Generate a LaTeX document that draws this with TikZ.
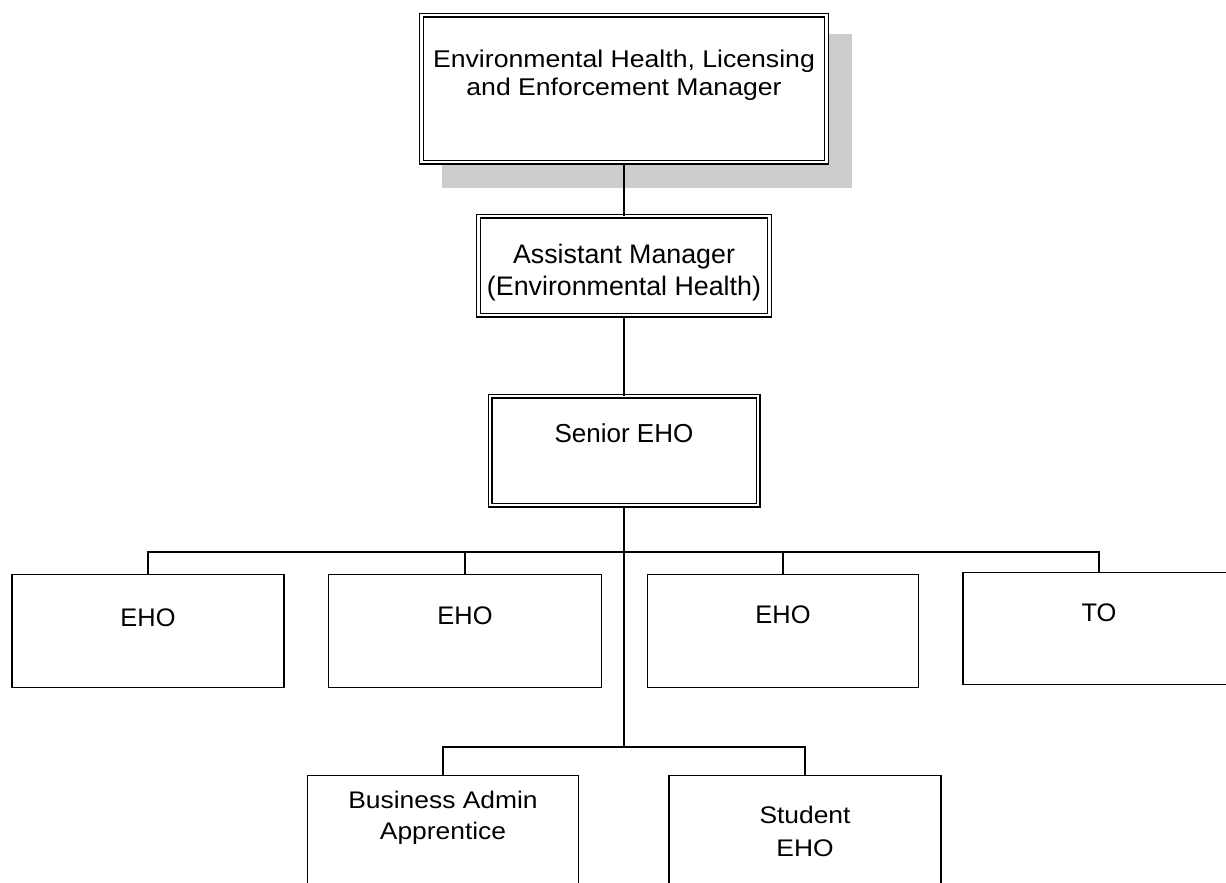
\documentclass[tikz,border=0pt]{standalone}
\usepackage{fontspec}
\setmainfont{Liberation Sans}
\newfontfamily\widesans[FakeStretch=1.1]{Liberation Sans}
\begin{document}
\begin{tikzpicture}[x=1pt,y=-1pt,
  post/.style={draw=black, line width=1.4pt, fill=white, inner sep=0pt, anchor=north},
  keypost/.style={post, line width=1.4pt, double=white, double distance=2.2pt},
  link/.style={draw=black, line width=1.6pt}]
\useasboundingbox (0,0) rectangle (1226,883);

% drop shadow behind the manager box
\fill[gray!40] (442,34) rectangle (852,188);

% management chain
\node[keypost, minimum width=405pt, text height=52.5pt, text depth=94.5pt,
      font={\fontsize{24.2}{27.6}\selectfont\widesans}] (mgr) at (624,14.5)
  {\begin{tabular}[t]{@{}c@{}}Environmental Health, Licensing\\and Enforcement Manager\end{tabular}};
\node[keypost, minimum width=291pt, text height=47.5pt, text depth=51.5pt,
      font={\fontsize{26.8}{32}\selectfont}] (asst) at (624,215.5)
  {\begin{tabular}[t]{@{}c@{}}Assistant Manager\\(Environmental Health)\end{tabular}};
\node[keypost, minimum width=268pt, text height=46.2pt, text depth=62.8pt,
      font={\fontsize{26}{31}\selectfont}] (senior) at (624,395.5) {Senior EHO};

% officers
\begin{scope}[every node/.append style={font={\fontsize{25.4}{30}\selectfont}}]
\node[post, minimum width=272pt, text height=52pt, text depth=61pt] (eho1) at (148,574) {EHO};
\node[post, minimum width=273pt, text height=49.3pt, text depth=63.7pt] (eho2) at (465,574) {EHO};
\node[post, minimum width=271pt, text height=49pt, text depth=64pt] (eho3) at (783,574) {EHO};
\node[post, minimum width=272pt, text height=48.7pt, text depth=63.3pt] (to) at (1099,572) {TO};
\end{scope}

% trainees
\node[post, minimum width=271pt, text height=33pt, text depth=80pt,
      font={\fontsize{24}{31}\selectfont\widesans}] (ba) at (443,775)
  {\begin{tabular}[t]{@{}c@{}}Business Admin\\Apprentice\end{tabular}};
\node[post, minimum width=272pt, text height=48pt, text depth=65pt,
      font={\fontsize{24}{33}\selectfont\widesans}] (stu) at (805,775)
  {\begin{tabular}[t]{@{}c@{}}Student\\EHO\end{tabular}};

% bus junctions
\coordinate (hub) at (624,552);
\coordinate (lowhub) at (624,747);

% connectors
\draw[link] (mgr.south) -- (mgr.south |- asst.north);
\draw[link] (asst.south) -- (asst.south |- senior.north);
\draw[link] (senior.south) -- (senior.south |- lowhub);
\draw[link] (eho1.north) -- (eho1.north |- hub) -- (to.north |- hub) -- (to.north);
\draw[link] (eho2.north) -- (eho2.north |- hub);
\draw[link] (eho3.north) -- (eho3.north |- hub);
\draw[link] (ba.north) -- (ba.north |- lowhub) -- (stu.north |- lowhub) -- (stu.north);
\end{tikzpicture}
\end{document}
